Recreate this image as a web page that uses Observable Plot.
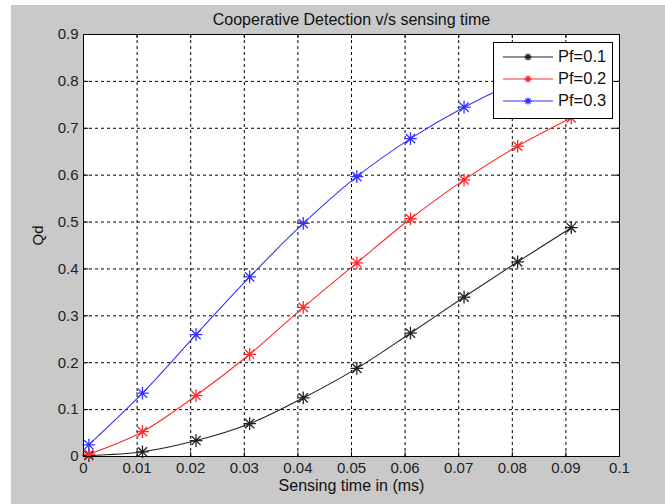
<!DOCTYPE html>
<html>
<head>
<meta charset="utf-8">
<script src="https://cdn.jsdelivr.net/npm/d3@7"></script>
<script src="https://cdn.jsdelivr.net/npm/@observablehq/plot@0.6"></script>
<style>
  body { margin: 0; background: #fff; }
  #wrap { position: relative; width: 665px; height: 504px; background: #fff; overflow: hidden;
          font-family: "Liberation Sans", Arial, sans-serif; }
  #panel { position: absolute; left: 11px; top: 5px; width: 654px; height: 499px; background: #c9c9c9; }
  #panel svg { display: block; }
  #legend { position: absolute; left: 493px; top: 42px; width: 118px; height: 72px; background: #fff;
            border: 1px solid #000; padding-top: 3px; box-sizing: content-box; }
  .row { height: 22px; position: relative; }
  .row svg { position: absolute; left: 8px; top: 0; }
  .row span { position: absolute; left: 64px; top: 1px; font-size: 16.5px; color: #111; line-height: 19px; }
</style>
</head>
<body>
<div id="wrap">
  <div id="panel"></div>
  <div id="legend"></div>
</div>
<script>
// ---- data ----
const sensingTime = [0.001, 0.011, 0.021, 0.031, 0.041, 0.051, 0.061, 0.071, 0.081, 0.091];
const qdPf01 = [0.002, 0.010, 0.034, 0.070, 0.125, 0.188, 0.263, 0.340, 0.415, 0.488];
const qdPf02 = [0.005, 0.053, 0.130, 0.218, 0.318, 0.413, 0.507, 0.590, 0.662, 0.722];
const qdPf03 = [0.025, 0.135, 0.260, 0.383, 0.497, 0.597, 0.678, 0.745, 0.800, 0.845];
const seriesNames = ["Pf=0.1", "Pf=0.2", "Pf=0.3"];
const seriesColors = ["#222222", "#ff2a2a", "#3333ff"];
const xTicks = [0, 0.01, 0.02, 0.03, 0.04, 0.05, 0.06, 0.07, 0.08, 0.09, 0.1];
const xTickLabels = ["0", "0.01", "0.02", "0.03", "0.04", "0.05", "0.06", "0.07", "0.08", "0.09", "0.1"];
const yTicks = [0, 0.1, 0.2, 0.3, 0.4, 0.5, 0.6, 0.7, 0.8, 0.9];
const yTickLabels = ["0", "0.1", "0.2", "0.3", "0.4", "0.5", "0.6", "0.7", "0.8", "0.9"];
const titleText = "Cooperative Detection v/s sensing time";
const xLabel = "Sensing time in (ms)";
const yLabel = "Qd";

const allSeries = [qdPf01, qdPf02, qdPf03];
const rows = allSeries.flatMap((vals, s) =>
  vals.map((v, i) => ({ t: sensingTime[i], qd: v, series: seriesNames[s] })));

// MATLAB-style '*' marker: plus + cross
const star = {
  draw(ctx, size) {
    const r = Math.sqrt(size) * 0.9;
    const d = r * 0.72;
    ctx.moveTo(-r, 0); ctx.lineTo(r, 0);
    ctx.moveTo(0, -r); ctx.lineTo(0, r);
    ctx.moveTo(-d, -d); ctx.lineTo(d, d);
    ctx.moveTo(-d, d); ctx.lineTo(d, -d);
  }
};

const chart = Plot.plot({
  width: 654,
  height: 499,
  marginLeft: 72,
  marginRight: 46,
  marginTop: 29,
  marginBottom: 48,
  style: { background: "#c9c9c9", fontFamily: "'Liberation Sans', Arial, sans-serif", overflow: "visible" },
  x: { domain: [0, 0.1], label: null },
  y: { domain: [0, 0.9], label: null },
  color: { domain: seriesNames, range: seriesColors },
  marks: [
    Plot.frame({ fill: "white" }),
    Plot.gridX({ ticks: xTicks, stroke: "#000", strokeOpacity: 1, strokeDasharray: "3,3", strokeWidth: 1 }),
    Plot.gridY({ ticks: yTicks, stroke: "#000", strokeOpacity: 1, strokeDasharray: "3,3", strokeWidth: 1 }),
    // inward ticks on all four sides
    Plot.ruleX(xTicks, { y1: 0, y2: 0.009, stroke: "#000" }),
    Plot.ruleX(xTicks, { y1: 0.891, y2: 0.9, stroke: "#000" }),
    Plot.ruleY(yTicks, { x1: 0, x2: 0.001, stroke: "#000" }),
    Plot.ruleY(yTicks, { x1: 0.099, x2: 0.1, stroke: "#000" }),
    Plot.axisX({ ticks: xTicks, tickSize: 0, tickPadding: 6, fontSize: 15, fill: "#222",
                 tickFormat: (d, i) => xTickLabels[i], label: null }),
    Plot.axisY({ ticks: yTicks, tickSize: 0, tickPadding: 5, fontSize: 15, fill: "#222",
                 tickFormat: (d, i) => yTickLabels[i], label: null }),
    Plot.line(rows, { x: "t", y: "qd", stroke: "series", z: "series", curve: "catmull-rom", strokeWidth: 1.1 }),
    Plot.dot(rows, { x: "t", y: "qd", stroke: "series", symbol: star, r: 4, strokeWidth: 1.3 }),
    Plot.frame({ stroke: "#000", strokeWidth: 1 }),
    Plot.text([titleText], { frameAnchor: "top", dy: -21, fontSize: 16, fill: "#111" }),
    Plot.text([xLabel], { frameAnchor: "bottom", dy: 34, fontSize: 16, fill: "#111" }),
    Plot.text([yLabel], { frameAnchor: "left", dx: -45, rotate: -90, fontSize: 15, fill: "#111" })
  ]
});
document.getElementById("panel").appendChild(chart);

// ---- legend ----
const legend = document.getElementById("legend");
seriesNames.forEach((name, i) => {
  const row = document.createElement("div");
  row.className = "row";
  const c = seriesColors[i];
  row.innerHTML =
    `<svg width="52" height="22"><g stroke="${c}" fill="none">
       <line x1="1" y1="11" x2="51" y2="11" stroke-width="1.1"/>
       <path d="M22.4,11H29.6M26,7.4V14.6M23.4,8.4L28.6,13.6M23.4,13.6L28.6,8.4" stroke-width="1.3"/>
     </g></svg><span>${name}</span>`;
  legend.appendChild(row);
});
</script>
</body>
</html>
